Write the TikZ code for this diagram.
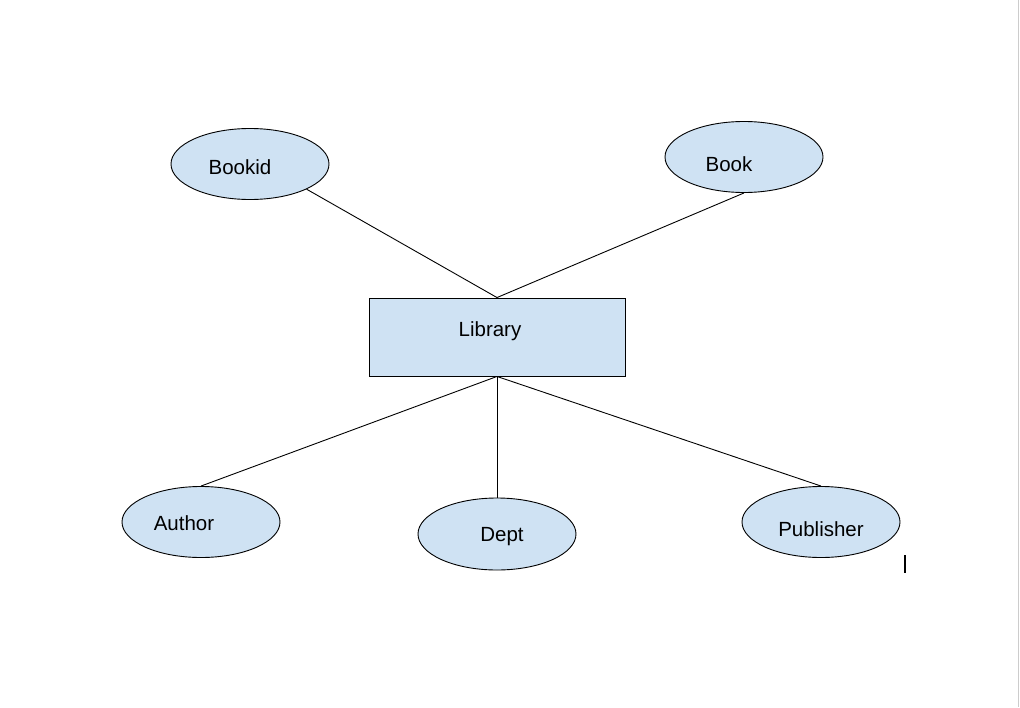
\documentclass[tikz,border=0pt]{standalone}
\usepackage{fontspec}
\setmainfont{Liberation Sans}
\usetikzlibrary{shapes.geometric}
\definecolor{erfill}{HTML}{CFE2F3}
\tikzset{
  attr/.style={ellipse, draw=black, fill=erfill, line width=0.9pt, minimum width=158pt, minimum height=71pt, inner sep=0pt},
  entity/.style={rectangle, draw=black, fill=erfill, line width=0.9pt, minimum width=256pt, minimum height=78pt, inner sep=0pt},
  lbl/.style={font=\fontsize{20.5}{24}\selectfont, inner sep=0pt},
  conn/.style={draw=black, line width=0.9pt}
}
\begin{document}
\begin{tikzpicture}[x=1pt,y=-1pt]
\useasboundingbox (0,0) rectangle (1020,707);
\fill[white] (0,0) rectangle (1020,707);
\draw[black!20, line width=1pt] (1018.5,0) -- (1018.5,707);
\node[attr] (bookid) at (250,164) {};
\node[attr] (book) at (744,157) {};
\node[entity] (library) at (497,337) {};
\node[attr] (author) at (201,522) {};
\node[attr, minimum height=72pt] (dept) at (497,534) {};
\node[attr] (publisher) at (821,522) {};
\node[lbl] (tbookid) at (240,167.5) {Bookid};
\node[lbl] (tbook) at (729,164.5) {Book};
\node[lbl] (tlibrary) at (490,331.5) {Library};
\node[lbl] (tauthor) at (184,523.5) {Author};
\node[lbl] (tdept) at (502,536.5) {Dept};
\node[lbl] (tpublisher) at (821,529.5) {Publisher};
\draw[conn] (bookid.-24.5) -- (library.north);
\draw[conn] (book.south) -- (library.north);
\draw[conn] (library.south) -- (author.north);
\draw[conn] (library.south) -- (dept.north);
\draw[conn] (library.south) -- (publisher.north);
\coordinate (cur1) at (905,555);
\coordinate (cur2) at (905,573);
\draw[black, line width=1.5pt] (cur1) -- (cur2);
\end{tikzpicture}
\end{document}
